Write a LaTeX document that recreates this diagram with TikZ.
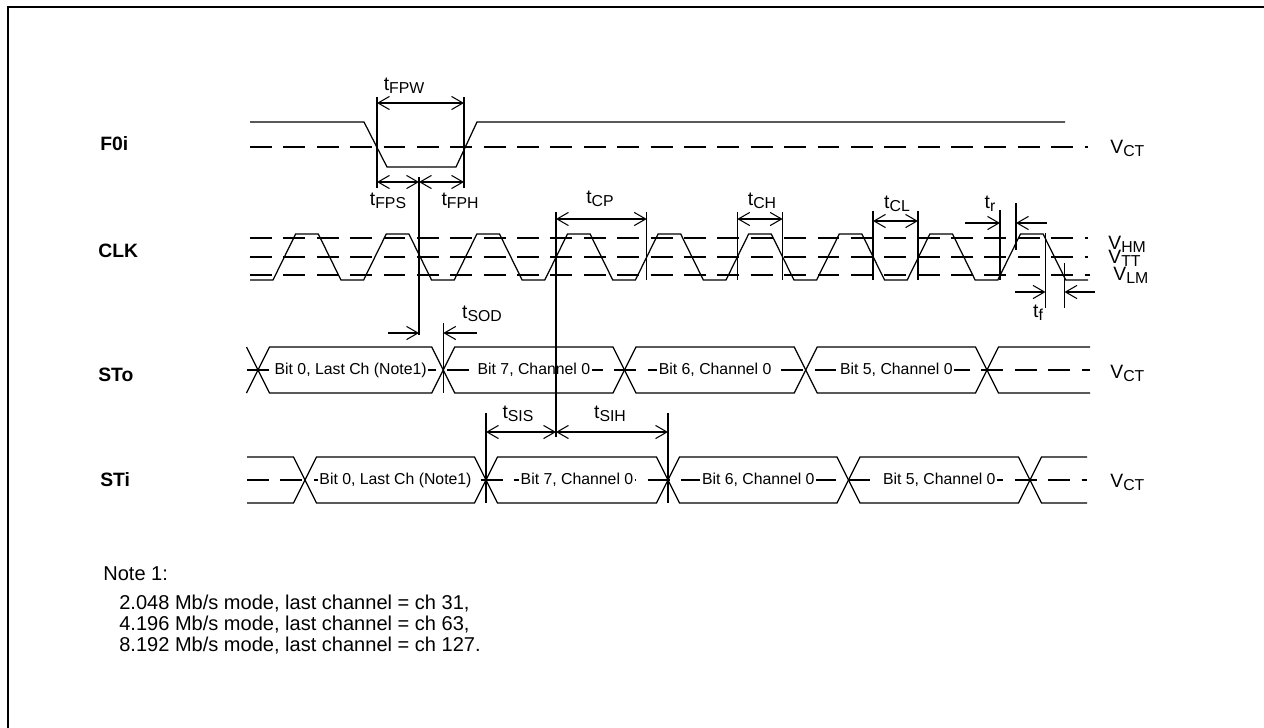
\documentclass[tikz,border=0pt]{standalone}
\usepackage{fontspec}
\setmainfont{Liberation Sans}
\usetikzlibrary{arrows.meta}
\newcommand{\drawwave}{\draw[line width=.7pt]}
\newcommand{\drawlevel}{\draw[line width=.6pt,dash pattern=on 12.5pt off 6.5pt]}
\newcommand{\markline}[3]{\draw[line width=.6pt] (#1,#2)--(#1,#3);}
\newcommand{\withsub}[2]{#1\raisebox{-2pt}{\fontsize{9}{9}\selectfont #2}}
\newcommand{\timelabel}[4]{\draw(#3,#4) node[anchor=base,biglab] (#1) {\withsub{t}{#2}};}
\newcommand{\levellabel}[4]{\draw(#3,#4) node[anchor=base west,biglab] (#1) {\withsub{V}{#2}};}
\newcommand{\busbox}[5]{
    \draw[line width=.7pt] (#1,#3)--++(11.5,-23)--({#2-11.5},{#3-23})--(#2,#3)--({#2-11.5},{#3+23})--({#1+11.5},{#3+23})--cycle;
    \draw({(#1+#2)/2},#3) node[bittext] (#4) {#5};
}
\tikzset{
    biglab/.style={inner sep=0pt,font=\fontsize{11}{13}\selectfont},
    signame/.style={anchor=base west,inner sep=0pt,font=\fontsize{11}{13}\selectfont\bfseries},
    bittext/.style={fill=white,inner sep=1pt,font=\fontsize{9}{11}\selectfont},
    notetext/.style={anchor=base west,inner sep=0pt,font=\fontsize{11.4}{13}\selectfont},
    dimboth/.style={line width=.6pt,{Straight Barb[length=6.5pt,width=7.5pt]}-{Straight Barb[length=6.5pt,width=7.5pt]}},
    dimto/.style={line width=.6pt,-{Straight Barb[length=6.5pt,width=7.5pt]}}
}

\begin{document}
\begin{tikzpicture}[x=0.02cm,y=-0.02cm]
\useasboundingbox (0,0) rectangle (1264,727);
\clip (0,0) rectangle (1264,727);
\draw[line width=1.3pt] (8,7) rectangle (1300,760);

% signal names
\draw(100,150) node[signame] (f0i) {F0i};
\draw(98,257) node[signame] (clk) {CLK};
\draw(98,381) node[signame] (sto) {STo};
\draw(100,486) node[signame] (sti) {STi};

% F0i
\drawlevel (250,147)--(1088,147);
\drawwave (250,122)--(364,122)--(387,167)--(456,167)--(477,122)--(1065,122);
\levellabel{vctf}{CT}{1110}{153}

% CLK
\drawlevel (250,238)--(1088,238);
\drawlevel (250,257)--(1088,257);
\drawlevel (250,275)--(1090,275);
\drawwave (250,280) foreach \k in {0,...,8}{--({273+90.6*\k},280)--({295.65+90.6*\k},234)--({318.3+90.6*\k},234)--({340.95+90.6*\k},280)}--(1088,280);
\levellabel{vhm}{HM}{1108}{249}
\levellabel{vtt}{TT}{1108}{263}
\levellabel{vlm}{LM}{1113}{280}

% STo
\drawlevel (247,370)--(1090,370);
\drawwave (246.5,347)--(258,370)--(246.5,393);
\busbox{258}{443.3}{370}{stoa}{Bit 0, Last Ch (Note1)}
\busbox{443.3}{624.5}{370}{stob}{Bit 7, Channel 0}
\busbox{624.5}{805.7}{370}{stoc}{Bit 6, Channel 0}
\busbox{805.7}{987}{370}{stod}{Bit 5, Channel 0}
\drawwave (1090,347)--(998.5,347)--(987,370)--(998.5,393)--(1090,393);
\levellabel{vcto}{CT}{1110}{378}

% STi
\drawlevel (247,480)--(1087,480);
\drawwave (247,457)--(293.5,457)--(305,480)--(293.5,503)--(247,503);
\busbox{305}{486}{480}{stia}{Bit 0, Last Ch (Note1)}
\busbox{486}{668}{480}{stib}{Bit 7, Channel 0}
\busbox{668}{848.5}{480}{stic}{Bit 6, Channel 0}
\busbox{848.5}{1030}{480}{stid}{Bit 5, Channel 0}
\drawwave (1087,457)--(1041.5,457)--(1030,480)--(1041.5,503)--(1087,503);
\levellabel{vcti}{CT}{1110}{487}

% timing marks
\markline{377}{97}{188}\markline{464}{97}{188}\markline{419}{177}{335}
\markline{556}{212}{437}\markline{646.7}{212}{280}\markline{737.3}{212}{280}\markline{782.6}{212}{280}
\markline{873}{211}{280}\markline{918}{211}{280}
\markline{1000}{210}{280}\markline{1016}{203}{250}\markline{1045.5}{233}{308}\markline{1064.5}{263}{308}
\markline{443.3}{323}{393}\markline{486}{413}{503}\markline{668}{413}{503}

\draw[dimboth] (377,103)--(464,103);
\draw[dimboth] (377,182)--(419,182);
\draw[dimboth] (419,182)--(464,182);
\draw[dimboth] (556,219)--(646.7,219);
\draw[dimboth] (737.3,219)--(782.6,219);
\draw[dimboth] (873,221)--(918,221);
\draw[dimto] (965,223)--(1000,223);
\draw[dimto] (1047,223)--(1016,223);
\draw[dimto] (1015,292)--(1045.5,292);
\draw[dimto] (1095,292)--(1064.5,292);
\draw[dimto] (388,333)--(419,333);
\draw[dimto] (477,333)--(443.3,333);
\draw[dimboth] (486,432)--(556,432);
\draw[dimboth] (556,432)--(668,432);

\timelabel{tfpw}{FPW}{404}{90}
\timelabel{tfps}{FPS}{388}{205}
\timelabel{tfph}{FPH}{460}{205}
\timelabel{tcp}{CP}{600}{203}
\timelabel{tch}{CH}{762}{205}
\timelabel{tcl}{CL}{897}{208}
\timelabel{tr}{r}{990}{208}
\timelabel{tf}{f}{1038}{317}
\timelabel{tsod}{SOD}{482}{318}
\timelabel{tsis}{SIS}{518}{418}
\timelabel{tsih}{SIH}{610}{418}

% note
\draw(103,580) node[notetext] (note) {Note 1:};
\draw(119,609) node[notetext] (notea) {2.048 Mb/s mode, last channel = ch 31,};
\draw(119,630) node[notetext] (noteb) {4.196 Mb/s mode, last channel = ch 63,};
\draw(119,651) node[notetext] (notec) {8.192 Mb/s mode, last channel = ch 127.};
\end{tikzpicture}
\end{document}
